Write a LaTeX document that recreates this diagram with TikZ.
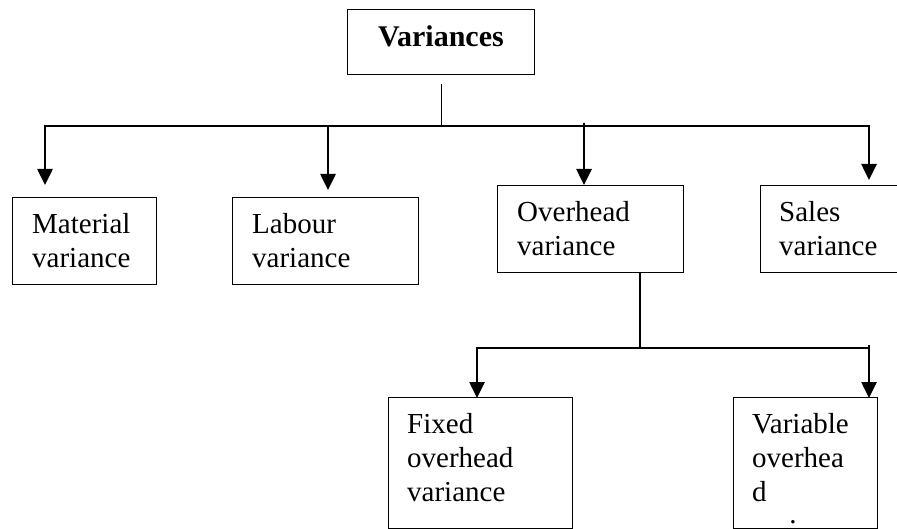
\documentclass[tikz,border=0pt]{standalone}
\usepackage{fontspec}
\setmainfont{Liberation Serif}
\usetikzlibrary{arrows.meta}
\begin{document}
\begin{tikzpicture}[x=1pt,y=-1pt,
  box/.style={draw, line width=1.4pt, rectangle, anchor=north west, inner sep=0pt},
  boxtext/.style={anchor=north west, inner sep=0pt, align=left,
    font=\fontsize{29}{34}\selectfont},
  bus/.style={line width=1.6pt},
  stem/.style={line width=1.1pt},
  arr/.style={line width=2.6pt, -{Triangle[width=15pt,length=16pt]}}
]
\useasboundingbox (0,0) rectangle (897,529);

% boxes
\node[box, minimum width=187pt, minimum height=65pt] (root) at (347,9) {};
\node[box, minimum width=144pt, minimum height=87pt] (mat) at (12,197) {};
\node[box, minimum width=186pt, minimum height=87pt] (lab) at (232,197) {};
\node[box, minimum width=186pt, minimum height=87pt] (ovh) at (497,185) {};
\node[box, minimum width=145pt, minimum height=87pt] (sal) at (760,185) {};
\node[box, minimum width=184pt, minimum height=131pt] (fix) at (388,397) {};
\node[box, minimum width=144pt, minimum height=131pt] (var) at (733,397) {};

% texts
\node[anchor=base, inner sep=0pt, font=\bfseries\fontsize{30}{34}\selectfont] (roottxt) at (441,47) {Variances};
\node[boxtext] (mattxt) at ([shift={(20,16)}]mat.north west) {Material\\variance};
\node[boxtext] (labtxt) at ([shift={(20,16)}]lab.north west) {Labour\\variance};
\node[boxtext] (ovhtxt) at ([shift={(20,16)}]ovh.north west) {Overhead\\variance};
\node[boxtext] (saltxt) at ([shift={(19,16)}]sal.north west) {Sales\\variance};
\node[boxtext] (fixtxt) at ([shift={(19,16)}]fix.north west) {Fixed\\overhead\\variance};
\node[boxtext] (vartxt) at ([shift={(19,16)}]var.north west) {Variable\\overhea\\d};
\node[anchor=base, inner sep=0pt, font=\fontsize{29}{34}\selectfont] (vardot) at (793,523) {.};

% junction points
\coordinate (busL) at (45,126);
\coordinate (busR) at (869,126);
\coordinate (jLab) at (328,126);
\coordinate (jOvh) at (584,126);
\coordinate (jSub) at (640,348);
\coordinate (subL) at (477,348);
\coordinate (subR) at (869,348);

% first level
\draw[stem] ([yshift=-9pt]root.south) -- (root.south |- busL);
\draw[bus] (busL) -- (busR);
\draw[arr] ([yshift=1pt]busL) -- ([yshift=12pt]busL |- mat.north);
\draw[arr] ([yshift=1pt]jLab) -- ([yshift=7pt]jLab |- lab.north);
\draw[arr] ([yshift=3pt]jOvh) -- (jOvh |- ovh.north);
\draw[arr] ([yshift=1pt]busR) -- ([yshift=5pt]busR |- sal.north);

% second level
\draw[stem] (jSub |- ovh.south) -- (jSub);
\draw[bus] (subL) -- (subR);
\draw[arr] ([yshift=1pt]subL) -- ([yshift=-1pt]subL |- fix.north);
\draw[arr] ([yshift=3pt]subR) -- ([yshift=-1pt]subR |- var.north);
\end{tikzpicture}
\end{document}
